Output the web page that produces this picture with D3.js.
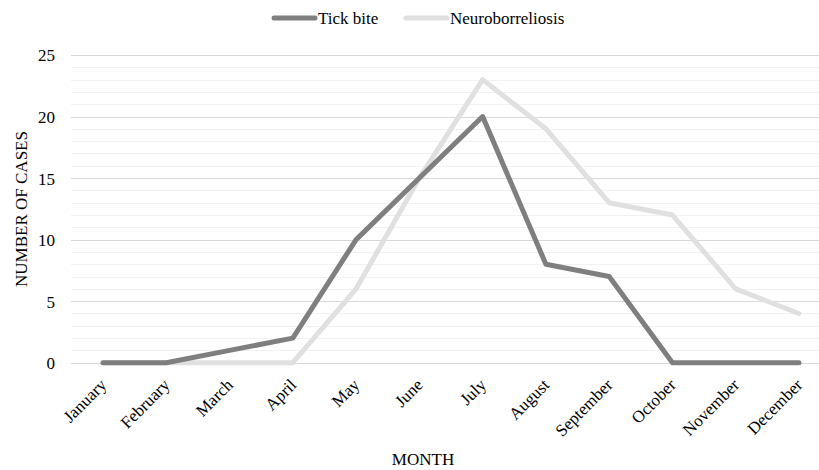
<!DOCTYPE html>
<html lang="en">
<head>
    <meta charset="UTF-8">
    <title>Cases by month</title>
    <script src="https://d3js.org/d3.v7.min.js"></script>
    <style>
      body{ margin:0; background:#fff; }
    </style>
</head>
<body>
    <script>
        const months = ["January","February","March","April","May","June","July","August","September","October","November","December"];
        const tickBite = [0,0,1,2,10,15,20,8,7,0,0,0];
        const neuro = [0,0,0,0,6,15,23,19,13,12,6,4];
        const yTicks = [0,5,10,15,20,25];

        const serif = "'Liberation Serif', 'Times New Roman', serif";
        let width = 819;
        let height = 470;
        const svg = d3.select("body").append("svg")
            .attr("width", width)
            .attr("height", height);

        const x = d3.scalePoint().domain(months).range([103, 799]);
        const y = d3.scaleLinear().domain([0, 25]).range([362.7, 55]);

        // minor + major gridlines
        const grid = svg.append("g");
        grid.selectAll("line.minor")
            .data(d3.range(0, 26).filter(v => v % 5 != 0))
            .join("line")
            .attr("x1", 71).attr("x2", 819)
            .attr("y1", d => Math.round(y(d)) + 0.5).attr("y2", d => Math.round(y(d)) + 0.5)
            .style("stroke", "#f2f2f2");
        grid.selectAll("line.major")
            .data(yTicks)
            .join("line")
            .attr("x1", 71).attr("x2", 819)
            .attr("y1", d => Math.round(y(d)) + 0.5).attr("y2", d => Math.round(y(d)) + 0.5)
            .style("stroke", "#d9d9d9");

        // y axis labels
        const yAxis = svg.append("g")
            .attr("transform", "translate(55,0)")
            .call(d3.axisLeft(y).tickValues(yTicks).tickSize(0).tickPadding(0));
        yAxis.select(".domain").remove();
        yAxis.attr("font-family", serif).attr("font-size", 17);
        yAxis.selectAll("text")
            .style("font-family", serif)
            .style("font-size", "17px")
            .attr("dy", "0.35em");

        // x axis labels
        const xAxis = svg.append("g")
            .attr("transform", "translate(-5,377)")
            .call(d3.axisBottom(x).tickSize(0).tickPadding(0));
        xAxis.select(".domain").remove();
        xAxis.attr("font-family", serif).attr("font-size", 17);
        xAxis.selectAll("text")
            .style("font-family", serif)
            .style("font-size", "17px")
            .style("text-anchor", "end")
            .attr("y", 0)
            .attr("dy", "0.75em")
            .attr("transform", "rotate(-45)");

        const line = d3.line()
            .x((d, i) => x(months[i]))
            .y(d => y(d));

        svg.append("path")
            .datum(neuro)
            .attr("d", line)
            .style("fill", "none")
            .style("stroke", "#e0e0e0")
            .style("stroke-width", 5)
            .style("stroke-linecap", "round")
            .style("stroke-linejoin", "round");

        svg.append("path")
            .datum(tickBite)
            .attr("d", line)
            .style("fill", "none")
            .style("stroke", "#7f7f7f")
            .style("stroke-width", 5)
            .style("stroke-linecap", "round")
            .style("stroke-linejoin", "round");

        // axis titles
        svg.append("text")
            .attr("transform", "translate(27,209) rotate(-90)")
            .attr("text-anchor", "middle")
            .style("font-family", serif)
            .style("font-size", "17px")
            .text("NUMBER OF CASES");
        svg.append("text")
            .attr("x", 423).attr("y", 465)
            .attr("text-anchor", "middle")
            .style("font-family", serif)
            .style("font-size", "17px")
            .text("MONTH");

        // legend
        const legend = [
            {name: "Tick bite", color: "#7f7f7f", x: 274},
            {name: "Neuroborreliosis", color: "#e0e0e0", x: 406}
        ];
        const lg = svg.append("g");
        legend.forEach(function(d){
            lg.append("line")
                .attr("x1", d.x).attr("x2", d.x + 41)
                .attr("y1", 18).attr("y2", 18)
                .style("stroke", d.color)
                .style("stroke-width", 5)
                .style("stroke-linecap", "round");
            lg.append("text")
                .attr("x", d.x + 44).attr("y", 24)
                .style("font-family", serif)
                .style("font-size", "17px")
                .text(d.name);
        });
    </script>
</body>
</html>
